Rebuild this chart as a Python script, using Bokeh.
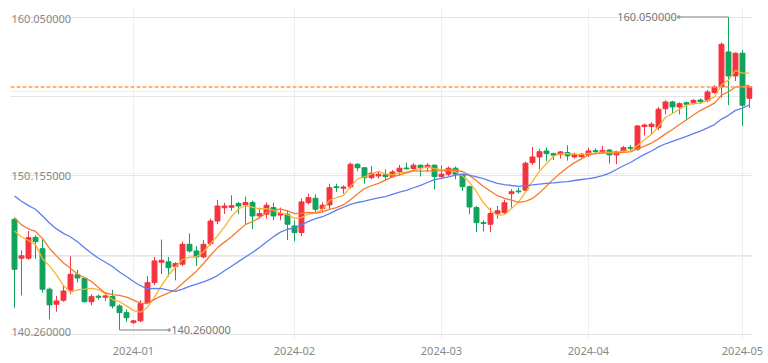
import numpy as np
import pandas as pd
from bokeh.plotting import figure
from bokeh.models import Range1d, FixedTicker, Span, ColumnDataSource, Grid
from bokeh.core.properties import value
from bokeh.embed import file_html
from bokeh.resources import INLINE

# ---------------- data ----------------
dates = pd.bdate_range("2023-12-07", "2024-05-02")

opens = [147.26, 144.80, 144.80, 146.12, 145.40, 142.84, 141.89, 142.14, 142.78, 143.76,
         143.53, 142.05, 142.40, 142.33, 142.38, 141.78, 141.36, 140.73, 140.84, 141.99,
         143.26, 144.55, 144.57, 144.27, 144.42, 145.68, 145.26, 144.88, 145.72, 147.15,
         147.99, 148.02, 148.25, 148.17, 148.32, 147.47, 147.58, 148.00, 147.53, 147.58,
         146.84, 146.42, 148.31, 148.59, 147.93, 148.17, 149.32, 149.22, 149.32, 150.74,
         150.52, 149.89, 150.00, 150.07, 149.96, 150.27, 150.50, 150.47, 150.68, 150.53,
         150.68, 149.96, 150.11, 150.49, 150.06, 149.32, 148.00, 147.05, 146.95, 147.62,
         147.68, 148.88, 149.05, 149.10, 150.84, 151.20, 151.58, 151.41, 151.37, 151.48,
         151.20, 151.22, 151.33, 151.60, 151.48, 151.64, 151.33, 151.58, 151.80, 151.69,
         153.12, 153.12, 153.05, 154.25, 154.68, 154.36, 154.63, 154.63, 154.80, 154.78,
         155.27, 155.63, 157.84, 156.32, 157.76, 154.91]
highs = [147.36, 145.30, 146.52, 146.25, 146.00, 142.95, 142.42, 143.05, 144.92, 144.06,
         143.60, 142.52, 142.50, 142.62, 142.80, 141.88, 141.57, 140.90, 142.14, 143.68,
         144.88, 145.98, 144.88, 144.55, 145.85, 146.37, 145.57, 145.95, 147.30, 148.48,
         148.30, 148.78, 148.35, 148.69, 148.45, 148.00, 148.33, 148.32, 148.00, 147.83,
         147.20, 148.57, 148.88, 148.84, 148.33, 149.51, 149.51, 149.41, 150.84, 150.80,
         150.55, 150.63, 150.25, 150.42, 150.38, 150.70, 150.84, 150.80, 150.72, 150.80,
         150.72, 150.67, 150.60, 150.60, 150.15, 149.40, 148.10, 147.20, 148.00, 148.10,
         148.50, 149.16, 149.26, 150.90, 151.83, 151.72, 151.80, 151.47, 151.58, 151.94,
         151.47, 151.45, 151.78, 151.75, 151.90, 151.70, 151.60, 151.90, 151.95, 153.22,
         153.30, 153.40, 154.36, 154.78, 154.75, 154.65, 154.70, 154.85, 154.90, 155.44,
         155.74, 158.43, 160.05, 157.80, 157.96, 155.69]
lows = [141.67, 142.45, 144.70, 144.75, 142.62, 140.94, 141.42, 142.05, 142.52, 143.26,
        141.99, 141.83, 142.18, 142.10, 141.63, 140.26, 140.78, 140.66, 140.77, 141.90,
        143.10, 143.80, 143.62, 143.40, 144.30, 145.15, 144.31, 144.80, 145.60, 146.95,
        147.60, 147.80, 147.60, 146.98, 146.63, 147.30, 147.30, 147.20, 147.20, 145.95,
        145.87, 146.20, 148.20, 147.72, 147.70, 147.89, 149.00, 148.88, 149.20, 150.30,
        149.51, 149.79, 149.85, 149.68, 149.90, 150.00, 150.40, 150.40, 149.97, 150.25,
        149.16, 149.80, 150.00, 149.79, 149.05, 147.58, 146.46, 146.50, 146.46, 147.30,
        147.60, 148.00, 148.88, 149.00, 150.70, 150.42, 150.95, 151.00, 151.10, 150.97,
        151.10, 151.15, 151.20, 151.45, 151.40, 150.78, 150.74, 151.50, 151.60, 151.60,
        152.57, 152.60, 152.90, 153.90, 153.98, 153.90, 153.52, 154.50, 154.60, 154.65,
        155.20, 154.95, 154.47, 156.00, 153.16, 154.28]
closes = [144.10, 144.95, 146.10, 145.85, 142.84, 141.85, 142.10, 142.73, 143.78, 143.55,
          142.05, 142.37, 142.33, 142.42, 141.78, 141.36, 141.04, 140.84, 141.93, 143.26,
          144.63, 144.67, 144.20, 144.46, 145.68, 145.26, 144.88, 145.68, 147.15, 148.10,
          148.10, 148.12, 148.10, 148.32, 147.47, 147.62, 148.15, 147.47, 147.62, 146.95,
          146.42, 148.36, 148.63, 147.89, 148.15, 149.26, 149.26, 149.30, 150.74, 150.52,
          149.89, 150.17, 150.10, 149.96, 150.25, 150.49, 150.45, 150.68, 150.53, 150.68,
          149.96, 150.11, 150.49, 150.11, 149.32, 148.04, 147.05, 147.00, 147.62, 147.80,
          148.31, 149.00, 149.00, 150.80, 151.20, 151.53, 151.41, 151.31, 151.52, 151.27,
          151.37, 151.37, 151.58, 151.55, 151.62, 151.33, 151.54, 151.79, 151.75, 153.16,
          153.22, 153.27, 154.22, 154.68, 154.36, 154.57, 154.53, 154.78, 154.70, 155.31,
          155.63, 158.32, 156.32, 157.76, 154.47, 155.63]
# closes before the first visible day, only used for the moving averages
prior_closes = [151.52, 151.70, 150.38, 151.36, 150.70, 149.61, 148.35, 148.37, 149.54, 149.55,
                149.44, 148.67, 147.45, 147.24, 148.19, 146.80, 147.21, 147.16, 147.30]
ma_periods = [5, 10, 20]
ma_colors = ["#fdb22e", "#f77b2f", "#5d7ff0"]

UP, DOWN = "#f5333f", "#0fa35b"
FONT = "Noto Sans"

n = len(closes)
idx = np.arange(n)
o, h, l, c = map(np.array, (opens, highs, lows, closes))
colors = [UP if cc >= oo else DOWN for oo, cc in zip(opens, closes)]

src = ColumnDataSource(dict(x=idx, open=o, high=h, low=l, close=c,
                            top=np.maximum(o, c), bottom=np.minimum(o, c), color=colors))

hmax, lmin = h.max(), l.min()
span = hmax - lmin
pad = span * 0.027
y_lo, y_hi = lmin - pad, hmax + pad
x_lo, x_hi = -0.57, n - 1 + 0.43

p = figure(width=768, height=363, output_backend="svg", toolbar_location=None,
           x_range=Range1d(x_lo, x_hi), y_range=Range1d(y_lo, y_hi),
           y_axis_location=None,
           min_border_left=10, min_border_right=16, min_border_top=8, min_border_bottom=25)
p.outline_line_color = None
p.background_fill_color = "white"
p.border_fill_color = "white"

# x axis: month starts
month_ticks = [i for i in range(1, n) if dates[i].month != dates[i - 1].month]
p.xaxis.ticker = FixedTicker(ticks=month_ticks)
p.xaxis.major_label_overrides = {i: dates[i].strftime("%Y-%m") for i in month_ticks}
p.xaxis.axis_line_color = None
p.xaxis.major_tick_line_color = None
p.xaxis.minor_tick_line_color = None
p.xaxis.major_tick_out = 0
p.xaxis.major_tick_in = 0
p.xaxis.minor_tick_out = 0
p.xaxis.minor_tick_in = 0
p.xaxis.major_label_standoff = 8
p.xaxis.major_label_text_font = FONT
p.xaxis.major_label_text_font_size = "11px"
p.xaxis.major_label_text_color = "#888888"
p.xgrid.ticker = FixedTicker(ticks=month_ticks)
p.xgrid.grid_line_color = "#eeeeee"

p.add_layout(Grid(dimension=1, ticker=FixedTicker(ticks=[y_lo + k * (y_hi - y_lo) / 4 for k in range(5)]),
                  grid_line_color="#eeeeee"))

# candles
p.segment(x0="x", y0="low", x1="x", y1="high", source=src, line_color="color", line_width=1)
p.vbar(x="x", width=0.7, top="top", bottom="bottom", source=src,
       fill_color="color", line_color="color", line_width=1)

# moving averages
all_closes = np.array(prior_closes + closes)
off = len(prior_closes)
for per, col in zip(ma_periods, ma_colors):
    ma = [all_closes[off + i - per + 1: off + i + 1].mean() for i in range(n)]
    p.line(idx, ma, line_color=col, line_width=1.3)

# last price line
p.add_layout(Span(location=closes[-1], dimension="width", line_color="#ff9a4d",
                  line_dash="4 2", line_width=1.5))

# max / min markers
i_max, i_min = int(h.argmax()), int(l.argmin())
reach = 7.1
p.segment(x0=[i_max, i_min], y0=[hmax, lmin], x1=[i_max - reach, i_min + reach], y1=[hmax, lmin],
          line_color="#a8a8a8", line_width=1.5)
p.scatter(x=[i_max - reach, i_min + reach], y=[hmax, lmin], size=3.5,
          fill_color="#999999", line_color=None)
p.text(x=[i_max - reach], y=[hmax], text=[f"{hmax:.6f}"], text_align="right",
       text_baseline="middle", x_offset=-2, text_font=value(FONT),
       text_font_size="11px", text_color="#777777")
p.text(x=[i_min + reach], y=[lmin], text=[f"{lmin:.6f}"], text_align="left",
       text_baseline="middle", x_offset=2, text_font=value(FONT),
       text_font_size="11px", text_color="#777777")

# y value labels (max / mid / min) inside the plot
ylabels = [hmax, (hmax + lmin) / 2, lmin]
p.text(x=[x_lo] * 3, y=ylabels, text=[f"{v:.6f}" for v in ylabels],
       text_align="left", text_baseline="middle", x_offset=1, y_offset=2,
       text_font=value(FONT), text_font_size="11px", text_color="#888888")

open("out.html", "w").write(file_html(p, INLINE))
